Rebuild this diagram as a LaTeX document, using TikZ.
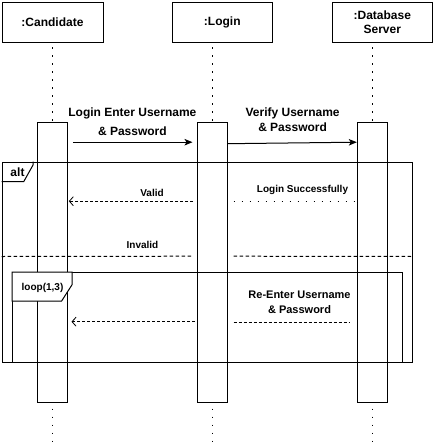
\documentclass[tikz,border=0pt]{standalone}
\usepackage{fontspec}
\setmainfont{Liberation Sans}
\usetikzlibrary{calc,arrows.meta}

\begin{document}
\begin{tikzpicture}[x=1pt,y=-1pt,line width=1pt]
  \tikzset{head/.style={draw,minimum width=100pt,minimum height=40pt,inner sep=0pt,align=center,font=\bfseries\fontsize{12}{14.3}\selectfont}};
  \tikzset{act/.style={draw,minimum width=30pt,minimum height=280pt,inner sep=0pt}};
  \tikzset{frame/.style={draw,inner sep=0pt}};
  \tikzset{life/.style={line width=1.6pt,dash pattern=on 1.6pt off 6.4pt}};
  \tikzset{msg/.style={-{Stealth[length=8pt,width=6.5pt,inset=2pt]}}};
  \tikzset{ret/.style={dash pattern=on 3pt off 2pt,-{Straight Barb[length=4pt,width=9pt,line width=0.8pt]}}};
  \tikzset{lbl/.style={align=center,inner sep=0pt,font=\bfseries\fontsize{10}{12}\selectfont}};
  \useasboundingbox (0,0) rectangle (436,447);
  \node[head,minimum width=101pt] (cand) at (52.5,22.3){:Candidate};
  \node[head] (login) at (222.3,22.3){:Login};
  \node[head] (db) at (382.3,22.3){:Database\\Server};
  \node[act] (actC) at (52.3,262.2){};
  \node[act] (actL) at (212.0,262.2){};
  \node[act] (actD) at (372.3,262.2){};
  \foreach \a in {actC,actL,actD}{
    \draw[life] ($(\a.north)+(0.3,-1)$) -- +(0,-75);
    \draw[life] ($(\a.south)+(0.3,6)$) -- +(0,37);
  }
  % alt and loop frames
  \node[frame,minimum width=410pt,minimum height=200pt] (alt) at (207.2,262.2){};
  \node[frame,minimum width=390pt,minimum height=89.3pt] (loop) at (207.7,317.35){};
  \draw ($(alt.north west)+(0,20)$) -- +(22,0) -- ($(alt.north west)+(31.5,3)$) -- +(0,-3);
  \draw[fill=white] (loop.north west) -- ($(loop.north west)+(0,29)$) -- +(49.3,0) -- ($(loop.north west)+(60,12.3)$) -- ($(loop.north west)+(60,0)$) -- cycle;
  \node[lbl,font=\bfseries\fontsize{12}{14}\selectfont] (altL) at (17.5,172){alt};
  \node[lbl] (loopL) at (42.5,288.3){loop(1,3)};
  % messages
  \draw[msg] ($(actC.north east)+(5,20.5)$) -- ($(actL.north west)+(-4,20.5)$);
  \draw[msg] ($(actL.north east)+(0,22)$) -- ($(actD.north west)+(0,20.5)$);
  \draw[ret] ($(actL.north west)+(-3.5,79.5)$) -- ($(actC.north east)+(1,79.5)$);
  \draw[line width=1.4pt,dash pattern=on 1.4pt off 6.6pt] ($(actL.north east)+(6,79.5)$) -- ($(actD.north west)+(-3,79.5)$);
  \draw[dash pattern=on 3.5pt off 2.5pt] ($(alt.north west)+(0,94.8)$) -- ($(actL.north west)+(-4,134.5)$);
  \draw[dash pattern=on 3.5pt off 2.5pt] ($(actL.north east)+(6,134.5)$) -- ($(alt.north east)+(0,94.8)$);
  \draw[dash pattern=on 3pt off 2pt] ($(actL.north east)+(6,201)$) -- ($(actD.north west)+(-7,201)$);
  \draw[ret] ($(actL.north west)+(-1.3,200)$) -- ($(actC.north east)+(3.7,200)$);
  \node[lbl,font=\bfseries\fontsize{12}{19.7}\selectfont] (m1) at (132.4,121.8){Login Enter Username\\\& Password};
  \node[lbl,font=\bfseries\fontsize{12}{14.7}\selectfont] (m2) at (292.6,119.4){Verify Username\\\& Password};
  \node[lbl] (m3) at (152,193.3){Valid};
  \node[lbl] (m4) at (302.5,190){Login Successfully};
  \node[lbl] (m5) at (142.5,245){Invalid};
  \node[lbl,font=\bfseries\fontsize{11}{15}\selectfont] (m6) at (299.5,302.5){Re-Enter Username\\\& Password};
\end{tikzpicture}
\end{document}
